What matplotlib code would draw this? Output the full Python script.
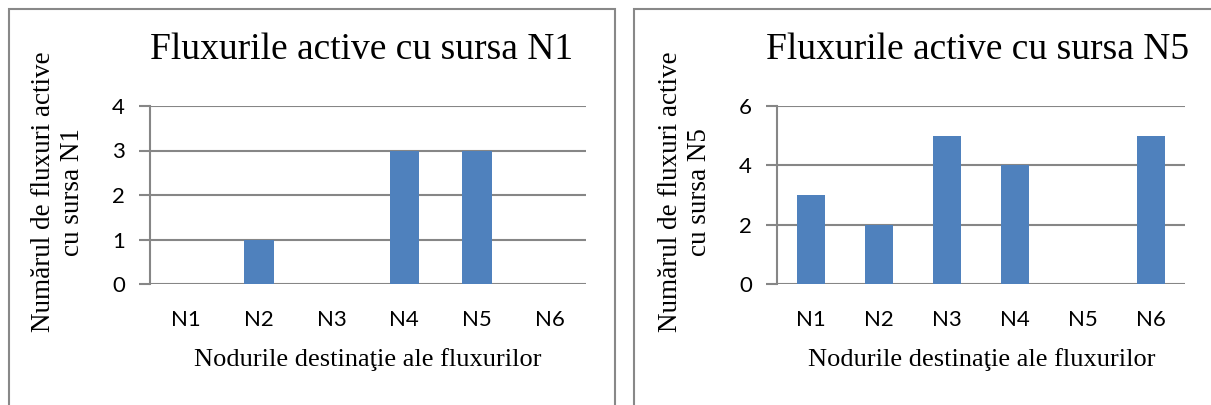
import matplotlib
matplotlib.use("Agg")
import matplotlib.pyplot as plt
from matplotlib.patches import Rectangle

# data
nodes = ["N1", "N2", "N3", "N4", "N5", "N6"]
flows_n1 = [0, 1, 0, 3, 3, 0]
flows_n5 = [3, 2, 5, 4, 0, 5]
yticks_n1 = [0, 1, 2, 3, 4]
yticks_n5 = [0, 2, 4, 6]

W, H = 1211, 405
BAR = "#4F81BD"
GRID = "#868686"
SERIF = "Liberation Serif"
SANS = "Lato"

fig = plt.figure(figsize=(W / 100, H / 100), dpi=100)


def px_axes(x0, x1, ytop, ybot):
    return fig.add_axes([x0 / W, (H - ybot) / H, (x1 - x0) / W, (ybot - ytop) / H])


def draw_panel(ax, values, yticks, title, ylabel, title_xy, ylabel_xy, xlabel_xy):
    x = range(len(nodes))
    ax.bar(x, values, width=0.4, color=BAR, zorder=3)
    ax.set_xlim(-0.5, len(nodes) - 0.5)
    ax.set_ylim(yticks[0], yticks[-1])
    ax.set_yticks(yticks)
    ax.set_xticks(list(x))
    ax.set_xticklabels(nodes)
    ax.yaxis.grid(True, color=GRID, linewidth=1.5, zorder=0)
    for s in ["top", "right", "bottom"]:
        ax.spines[s].set_visible(False)
    ax.spines["left"].set_color(GRID)
    ax.spines["left"].set_linewidth(1.5)
    ax.tick_params(axis="y", length=8, width=1.5, color=GRID, pad=10, labelsize=16)
    ax.tick_params(axis="x", length=0, pad=19, labelsize=16)
    for lab in ax.get_xticklabels() + ax.get_yticklabels():
        lab.set_fontfamily(SANS)
    fig.text(title_xy[0] / W, 1 - title_xy[1] / H, title, ha="center", va="center",
             fontsize=27, family=SERIF)
    fig.text(ylabel_xy[0] / W, 1 - ylabel_xy[1] / H, ylabel, ha="center", va="center",
             rotation=90, fontsize=19.5, family=SERIF, multialignment="center",
             linespacing=1.2)
    fig.text(xlabel_xy[0] / W, 1 - xlabel_xy[1] / H, "Nodurile destinaţie ale fluxurilor",
             ha="center", va="center", fontsize=19, family=SERIF)


ax1 = px_axes(150, 586, 106, 284)
draw_panel(ax1, flows_n1, yticks_n1, "Fluxurile active cu sursa N1",
           "Numărul de fluxuri active\ncu sursa N1", (362, 50), (58, 192), (368, 360))

ax2 = px_axes(777, 1185, 106, 284)
draw_panel(ax2, flows_n5, yticks_n5, "Fluxurile active cu sursa N5",
           "Numărul de fluxuri active\ncu sursa N5", (978, 50), (685, 192), (982, 360))

# panel frames
fig.patches.append(Rectangle((9 / W, -0.05), (615 - 9) / W, 1.05 - 9 / H,
                             transform=fig.transFigure, fill=False,
                             edgecolor="#888888", linewidth=1.5))
fig.patches.append(Rectangle((634 / W, -0.05), (W + 20 - 634) / W, 1.05 - 9 / H,
                             transform=fig.transFigure, fill=False,
                             edgecolor="#888888", linewidth=1.5))

fig.savefig("out.png", dpi=100)
